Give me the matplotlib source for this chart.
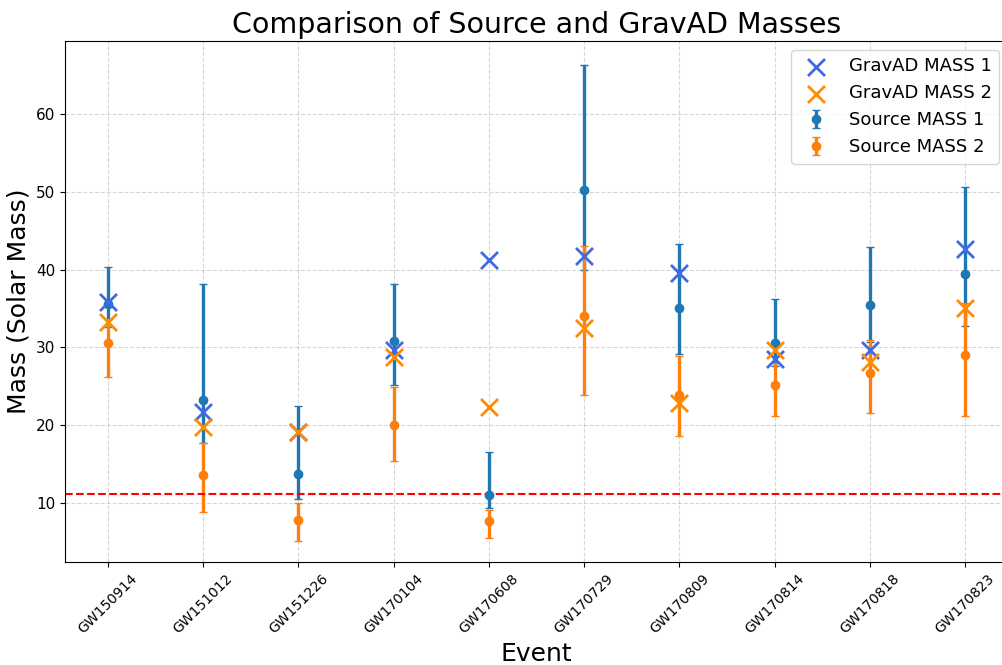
import matplotlib
matplotlib.use("Agg")
import matplotlib.pyplot as plt
import numpy as np

events = ["GW150914", "GW151012", "GW151226", "GW170104", "GW170608",
          "GW170729", "GW170809", "GW170814", "GW170818", "GW170823"]

# Source-frame masses with asymmetric 90% intervals
source_m1 = [35.6, 23.2, 13.7, 30.8, 11.0, 50.2, 35.0, 30.6, 35.4, 39.5]
source_m1_up = [4.8, 14.9, 8.8, 7.3, 5.5, 16.2, 8.3, 5.6, 7.5, 11.2]
source_m1_lo = [3.0, 5.5, 3.2, 5.6, 1.7, 10.2, 5.9, 3.0, 4.7, 6.7]
source_m2 = [30.6, 13.6, 7.7, 20.0, 7.6, 34.0, 23.8, 25.2, 26.7, 29.0]
source_m2_up = [3.0, 4.1, 2.2, 4.9, 1.4, 9.1, 5.1, 2.8, 4.3, 6.7]
source_m2_lo = [4.4, 4.8, 2.6, 4.6, 2.2, 10.1, 5.2, 4.0, 5.2, 7.8]

# GravAD recovered masses
gravad_m1 = [35.9, 21.7, 19.1, 29.7, 41.2, 41.8, 39.6, 28.5, 29.7, 42.7]
gravad_m2 = [33.2, 19.8, 19.1, 28.7, 22.3, 32.5, 22.8, 29.7, 28.1, 35.1]

threshold = 11.1

W, H = 1003, 665
fig = plt.figure(figsize=(W / 100, H / 100), dpi=100)
left, right, bottom, top = 65, 1008, 562, 41
ax = fig.add_axes([left / W, 1 - bottom / H, (right - left) / W, (bottom - top) / H])

x = np.arange(len(events))

ax.errorbar(x, source_m1, yerr=[source_m1_lo, source_m1_up], fmt='o',
            color='C0', capsize=3, elinewidth=2.4, markersize=6,
            label='Source MASS 1', zorder=2)
ax.errorbar(x, source_m2, yerr=[source_m2_lo, source_m2_up], fmt='o',
            color='C1', capsize=3, elinewidth=2.4, markersize=6,
            label='Source MASS 2', zorder=2)
ax.scatter(x, gravad_m1, marker='x', s=150, linewidths=2,
           color='royalblue', label='GravAD MASS 1', zorder=3)
ax.scatter(x, gravad_m2, marker='x', s=150, linewidths=2,
           color='darkorange', label='GravAD MASS 2', zorder=3)

ax.axhline(threshold, color='red', linestyle='--', linewidth=1.5)

ax.set_xticks(x)
ax.set_xticklabels(events, rotation=45, fontsize=10)
ax.tick_params(axis='y', labelsize=11)
ax.set_xlim(-0.45, 9.45)
ax.set_ylim(2.35, 69.45)

ax.grid(True, linestyle='--', alpha=0.5)
ax.set_xlabel('Event', fontsize=18)
ax.set_ylabel('Mass (Solar Mass)', fontsize=18)
ax.set_title('Comparison of Source and GravAD Masses', fontsize=20.5)
ax.legend(loc='upper right', fontsize=13)

fig.savefig('out.png', dpi=100)
